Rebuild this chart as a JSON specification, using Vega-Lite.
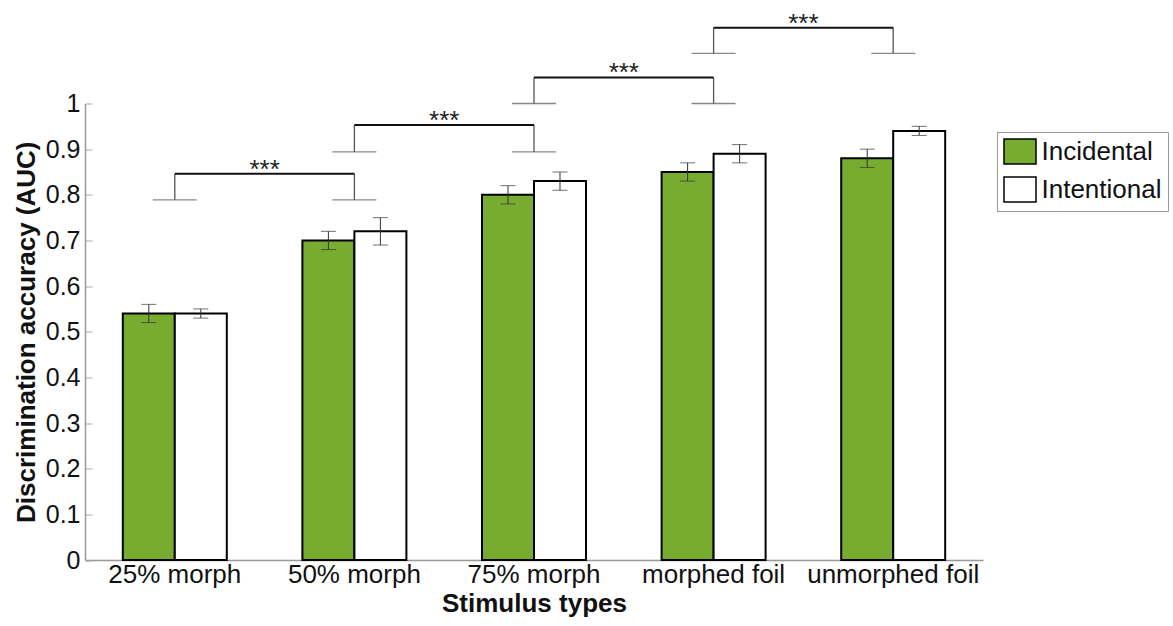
{
  "$schema": "https://vega.github.io/schema/vega-lite/v6.json",
  "autosize": {"type": "none"},
  "padding": {"left": 85, "top": 103.5, "right": 190, "bottom": 66},
  "width": 898,
  "height": 456.5,
  "background": "white",
  "config": {
    "view": {"stroke": null},
    "font": "Liberation Sans",
    "axis": {"labelFont": "Liberation Sans", "titleFont": "Liberation Sans", "labelColor": "#111", "titleColor": "#111", "grid": false}
  },
  "datasets": {
    "bars": [
      {"stim": "25% morph", "group": "Incidental", "auc": 0.54, "lo": 0.52, "hi": 0.56},
      {"stim": "25% morph", "group": "Intentional", "auc": 0.54, "lo": 0.53, "hi": 0.55},
      {"stim": "50% morph", "group": "Incidental", "auc": 0.70, "lo": 0.68, "hi": 0.72},
      {"stim": "50% morph", "group": "Intentional", "auc": 0.72, "lo": 0.69, "hi": 0.75},
      {"stim": "75% morph", "group": "Incidental", "auc": 0.80, "lo": 0.78, "hi": 0.82},
      {"stim": "75% morph", "group": "Intentional", "auc": 0.83, "lo": 0.81, "hi": 0.85},
      {"stim": "morphed foil", "group": "Incidental", "auc": 0.85, "lo": 0.83, "hi": 0.87},
      {"stim": "morphed foil", "group": "Intentional", "auc": 0.89, "lo": 0.87, "hi": 0.91},
      {"stim": "unmorphed foil", "group": "Incidental", "auc": 0.88, "lo": 0.86, "hi": 0.90},
      {"stim": "unmorphed foil", "group": "Intentional", "auc": 0.94, "lo": 0.93, "hi": 0.95}
    ],
    "feet": [
      {"stim": "25% morph", "foot": 0.789, "top": 0.846},
      {"stim": "50% morph", "foot": 0.789, "top": 0.846},
      {"stim": "50% morph", "foot": 0.894, "top": 0.953},
      {"stim": "75% morph", "foot": 0.894, "top": 0.953},
      {"stim": "75% morph", "foot": 1.0, "top": 1.057},
      {"stim": "morphed foil", "foot": 1.0, "top": 1.057},
      {"stim": "morphed foil", "foot": 1.11, "top": 1.166},
      {"stim": "unmorphed foil", "foot": 1.11, "top": 1.166}
    ],
    "brackets": [
      {"left": "25% morph", "right": "50% morph", "top": 0.846, "label": "***"},
      {"left": "50% morph", "right": "75% morph", "top": 0.953, "label": "***"},
      {"left": "75% morph", "right": "morphed foil", "top": 1.057, "label": "***"},
      {"left": "morphed foil", "right": "unmorphed foil", "top": 1.166, "label": "***"}
    ]
  },
  "encoding": {
    "x": {
      "field": "stim", "type": "nominal",
      "scale": {"type": "band", "domain": ["25% morph", "50% morph", "75% morph", "morphed foil", "unmorphed foil"], "paddingInner": 0, "paddingOuter": 0},
      "axis": {"title": "Stimulus types", "labelAngle": 0, "labelFontSize": 26, "titleFontSize": 26, "titleFontWeight": "bold", "labelPadding": 1, "titlePadding": 3, "ticks": false, "domainColor": "#999", "domainWidth": 1.5}
    }
  },
  "layer": [
    {
      "data": {"name": "bars"},
      "mark": {"type": "bar", "stroke": "black", "strokeWidth": 2},
      "encoding": {
        "xOffset": {"field": "group", "type": "nominal", "scale": {"domain": ["Incidental", "Intentional"], "paddingInner": 0, "paddingOuter": 0.727}},
        "y": {
          "field": "auc", "type": "quantitative",
          "scale": {"domain": [0, 1], "nice": false, "zero": true},
          "axis": {"title": "Discrimination accuracy (AUC)", "values": [0, 0.1, 0.2, 0.3, 0.4, 0.5, 0.6, 0.7, 0.8, 0.9, 1], "format": "~g", "labelFontSize": 25, "titleFontSize": 26, "titleFontWeight": "bold", "tickSize": -7, "tickColor": "#aaa", "labelPadding": 12, "titlePadding": 6, "domainColor": "#999", "domainWidth": 1.5}
        },
        "fill": {
          "field": "group", "type": "nominal",
          "scale": {"domain": ["Incidental", "Intentional"], "range": ["#77AC30", "#ffffff"]},
          "legend": {"title": null, "orient": "none", "legendX": 912, "legendY": 28.5, "padding": 6, "strokeColor": "#999", "labelFontSize": 26, "labelFont": "Liberation Sans", "labelColor": "#111", "symbolSize": 625, "symbolType": "M-1.28,-1L1.28,-1L1.28,1L-1.28,1Z", "symbolStrokeColor": "black", "symbolStrokeWidth": 1.5, "symbolOffset": 3.5, "rowPadding": 7, "labelOffset": 8}
        }
      }
    },
    {
      "data": {"name": "bars"},
      "mark": {"type": "rule", "color": "#333", "strokeWidth": 1},
      "encoding": {
        "xOffset": {"field": "group", "type": "nominal"},
        "y": {"field": "lo", "type": "quantitative"},
        "y2": {"field": "hi"}
      }
    },
    {
      "data": {"name": "bars"},
      "mark": {"type": "tick", "color": "#333", "size": 15, "thickness": 1},
      "encoding": {
        "xOffset": {"field": "group", "type": "nominal"},
        "y": {"field": "lo", "type": "quantitative"}
      }
    },
    {
      "data": {"name": "bars"},
      "mark": {"type": "tick", "color": "#333", "size": 15, "thickness": 1},
      "encoding": {
        "xOffset": {"field": "group", "type": "nominal"},
        "y": {"field": "hi", "type": "quantitative"}
      }
    },
    {
      "data": {"name": "feet"},
      "mark": {"type": "tick", "color": "#555", "size": 44, "thickness": 1.3},
      "encoding": {
        "y": {"field": "foot", "type": "quantitative"}
      }
    },
    {
      "data": {"name": "feet"},
      "mark": {"type": "rule", "color": "#555", "strokeWidth": 1.3},
      "encoding": {
        "y": {"field": "foot", "type": "quantitative"},
        "y2": {"field": "top"}
      }
    },
    {
      "data": {"name": "brackets"},
      "mark": {"type": "rule", "color": "#111", "strokeWidth": 2},
      "encoding": {
        "x": {"field": "left", "type": "nominal"},
        "x2": {"field": "right"},
        "y": {"field": "top", "type": "quantitative"}
      }
    },
    {
      "data": {"name": "brackets"},
      "mark": {"type": "text", "font": "Liberation Sans", "fontSize": 26, "color": "#222", "baseline": "alphabetic", "align": "center", "dy": 4},
      "encoding": {
        "x": {"field": "left", "type": "nominal", "bandPosition": 1},
        "y": {"field": "top", "type": "quantitative"},
        "text": {"field": "label"}
      }
    }
  ]
}
